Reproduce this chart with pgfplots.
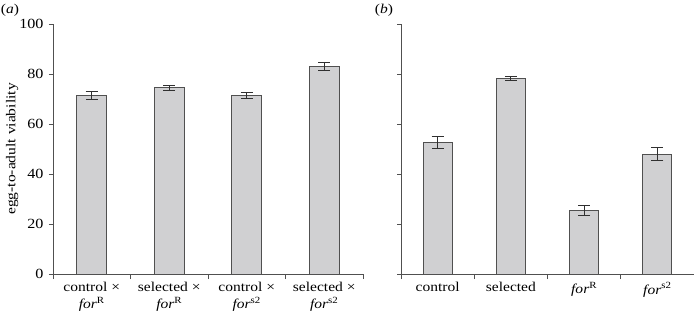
\documentclass[border=0pt]{standalone}
\usepackage{pgfplots}
\pgfplotsset{compat=1.18}
\usepackage{fontspec}
\setmainfont{Liberation Serif}[FakeStretch=1.15]
\definecolor{barfill}{HTML}{D0D0D2}
\definecolor{axisgray}{HTML}{505050}
\definecolor{errgray}{HTML}{303030}
\begin{document}
\begin{tikzpicture}
\pgfplotsset{
 myaxis/.style={
  scale only axis, height=250pt,
  ymin=0, ymax=100, ytick={0,20,...,100},
  xmin=-0.5, xmax=3.5,
  axis x line*=bottom, axis y line*=left,
  axis line style={axisgray, line width=0.8pt},
  xtick={0,1,2,3}, major x tick style={draw=none},
  minor xtick={-0.5,0.5,1.5,2.5,3.5},
  minor x tick style={axisgray, line width=0.8pt},
  ytick style={axisgray, line width=0.8pt},
  tick align=outside,
  major tick length=4pt, minor tick length=5pt,
  yticklabel style={font=\fontsize{14}{15}\selectfont, xshift=-2pt},
  xticklabel style={font=\fontsize{13.5}{16.5}\selectfont, align=center, yshift=-1pt},
  /pgf/number format/assume math mode=true,
  enlargelimits=false, clip=false,
 },
 mybar/.style={ybar, bar width=#1, fill=barfill, draw=axisgray, line width=0.8pt,
  error bars/.cd, y dir=both, y explicit,
  error bar style={errgray, line width=0.8pt},
  error mark options={rotate=90, mark size=6pt, errgray, line width=0.8pt}},
}
\begin{axis}[myaxis, width=310pt,
  xticklabels={{control ×\\\textit{for}\textsuperscript{R}},
               {selected ×\\\textit{for}\textsuperscript{R}},
               {control ×\\\textit{for}\textsuperscript{s2}},
               {selected ×\\\textit{for}\textsuperscript{s2}}},
  ylabel={egg-to-adult viability},
  ylabel style={font=\fontsize{13.5}{14}\selectfont, at={(axis description cs:-0.132,0.5)}, anchor=center},
]
\addplot[mybar=30pt] coordinates {
 (0,71.4) +- (0,1.6)
 (1,74.5) +- (0,1.0)
 (2,71.4) +- (0,1.1)
 (3,82.9) +- (0,1.6)
};
\node[font=\fontsize{13.5}{14}\selectfont] at (axis description cs:-0.139,1.056) {(\textit{a})};
\end{axis}
\begin{axis}[myaxis, width=293pt, at={(348pt,0pt)},
  yticklabels={},
  xticklabels={control, selected, \textit{for}\textsuperscript{R}, \textit{for}\textsuperscript{s2}},
]
\addplot[mybar=29pt] coordinates {
 (0,52.8) +- (0,2.4)
 (1,78.2) +- (0,0.7)
 (2,25.6) +- (0,2.0)
 (3,48.0) +- (0,2.5)
};
\node[font=\fontsize{13.5}{14}\selectfont] at (axis description cs:-0.058,1.056) {(\textit{b})};
\end{axis}
\pgfresetboundingbox
\path (-53pt,-40pt) rectangle (641pt,274pt);
\end{tikzpicture}
\end{document}
